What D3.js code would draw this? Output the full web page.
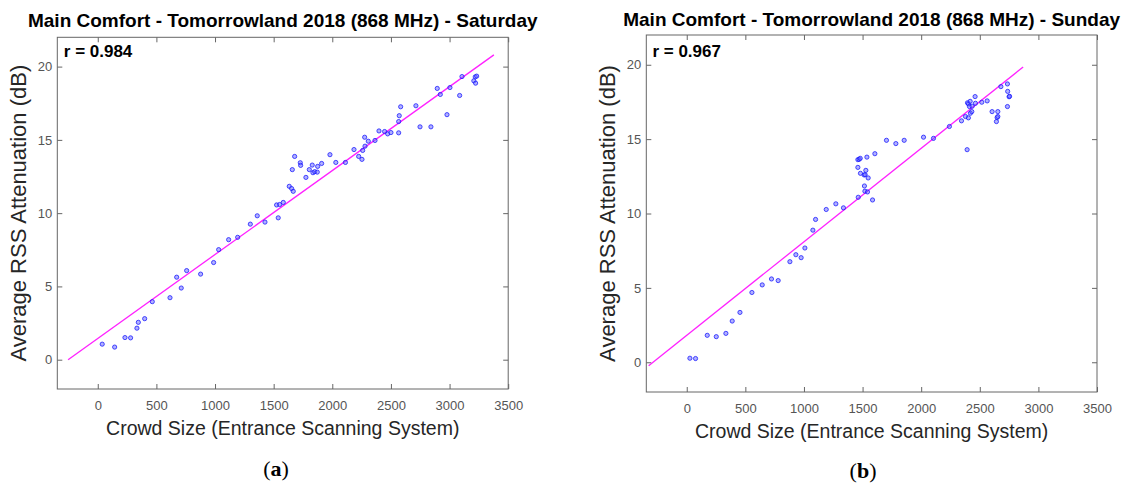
<!DOCTYPE html>
<html>
<head>
<meta charset="utf-8">
<script src="https://cdn.jsdelivr.net/npm/d3@7"></script>
<style>
  body { margin: 0; background: #fff; }
  svg { display: block; }
</style>
</head>
<body>
<div id="chart"></div>
<script>
// Saturday (a)
const satX = [38, 144, 232, 280, 334, 346, 400, 465, 616, 673, 712, 758, 877, 988, 1031, 1116,
  1193, 1301, 1360, 1426, 1525, 1539, 1551, 1582, 1633, 1653, 1659, 1667, 1679, 1727, 1730, 1775,
  1804, 1829, 1835, 1850, 1872, 1875, 1909, 1980, 2030, 2112, 2185, 2225, 2253, 2259, 2276, 2279,
  2307, 2364, 2398, 2446, 2472, 2500, 2566, 2566, 2571, 2583, 2713, 2748, 2841, 2895, 2921, 2978,
  3003, 3086, 3106, 3207, 3219, 3222, 3231];
const satY = [1.06, 0.86, 1.51, 1.49, 2.15, 2.55, 2.80, 3.96, 4.23, 5.63, 4.89, 6.08, 5.84, 6.63, 7.51, 8.19,
  8.35, 9.25, 9.82, 9.39, 10.56, 9.68, 10.59, 10.73, 11.83, 11.68, 12.97, 11.49, 13.87, 13.44, 13.26, 12.44,
  12.97, 13.28, 12.76, 12.83, 12.80, 13.19, 13.39, 13.99, 13.46, 13.46, 14.34, 13.87, 13.67, 14.28, 15.18, 14.57,
  14.91, 14.96, 15.61, 15.57, 15.41, 15.50, 15.48, 16.25, 16.65, 17.26, 17.33, 15.89, 15.89, 18.51, 18.10, 16.72,
  18.57, 18.03, 19.32, 19.03, 19.30, 18.87, 19.35];
const satLineX = [-253, 3378];
const satLineY = [0, 20.8];

// Sunday (b)
const sunX = [27, 75, 175, 252, 334, 388, 454, 556, 644, 723, 780, 880, 931, 976, 1008, 1076,
  1099, 1190, 1272, 1337, 1460, 1460, 1463, 1471, 1480, 1482, 1514, 1516, 1520, 1522, 1528, 1537,
  1542, 1548, 1585, 1605, 1704, 1784, 1855, 2020, 2105, 2241, 2344, 2378, 2392, 2395, 2403, 2403,
  2412, 2418, 2420, 2432, 2435, 2460, 2463, 2517, 2563, 2605, 2642, 2648, 2654, 2654, 2680, 2736,
  2738, 2750, 2754, 2736];
const sunY = [0.27, 0.25, 1.81, 1.72, 1.94, 2.77, 3.35, 4.69, 5.20, 5.60, 5.49, 6.76, 7.23, 7.03, 7.68, 8.88,
  9.60, 10.27, 10.65, 10.38, 13.10, 13.62, 11.09, 13.64, 13.71, 12.70, 12.59, 11.85, 11.50, 12.61, 12.90, 13.79,
  11.45, 12.39, 10.91, 14.02, 14.92, 14.70, 14.92, 15.13, 15.05, 15.85, 16.23, 16.52, 14.29, 17.44, 16.43, 17.37,
  17.19, 17.54, 16.74, 16.85, 17.21, 17.86, 17.41, 17.48, 17.57, 16.85, 16.18, 16.45, 16.52, 16.85, 18.53, 18.71,
  18.21, 17.85, 17.88, 17.19];
const sunLineX = [-325, 2870];
const sunLineY = [-0.23, 19.85];

const xTicks = [0, 500, 1000, 1500, 2000, 2500, 3000, 3500];
const yTicks = [0, 5, 10, 15, 20];
const xDomain = [-345, 3500];
const yDomain = [-2, 22];
const titles = ["Main Comfort - Tomorrowland 2018 (868 MHz) - Saturday",
                "Main Comfort - Tomorrowland 2018 (868 MHz) - Sunday"];
const rLabels = ["r = 0.984", "r = 0.967"];
const captions = ["a", "b"];
const xLabel = "Crowd Size (Entrance Scanning System)";
const yLabel = "Average RSS Attenuation (dB)";

const width = 1137, height = 487;
const svg = d3.select("#chart").append("svg")
  .attr("width", width).attr("height", height)
  .style("font-family", "'Liberation Sans', Arial, sans-serif");

const panels = [
  { xs: satX, ys: satY, lx: satLineX, ly: satLineY, left: 57.3, right: 508.2, top: 37.3, bottom: 389,
    titleY: 27, rX: 63.8, rY: 57.3, yLabX: 26, capX: 276, capY: 476 },
  { xs: sunX, ys: sunY, lx: sunLineX, ly: sunLineY, left: 646.3, right: 1097, top: 35, bottom: 392,
    titleY: 26, rX: 652.4, rY: 56.7, yLabX: 615, capX: 863, capY: 478 }
];

panels.forEach((p, i) => {
  const x = d3.scaleLinear().domain(xDomain).range([p.left, p.right]);
  const y = d3.scaleLinear().domain(yDomain).range([p.bottom, p.top]);
  const cx = (p.left + p.right) / 2, cy = (p.top + p.bottom) / 2;
  const g = svg.append("g");

  // axes with inward ticks on all four sides
  const axes = [
    [d3.axisBottom(x).tickValues(xTicks).tickFormat(d3.format("d")), `translate(0,${p.bottom})`],
    [d3.axisTop(x).tickValues(xTicks).tickFormat(""), `translate(0,${p.top})`],
    [d3.axisLeft(y).tickValues(yTicks), `translate(${p.left},0)`],
    [d3.axisRight(y).tickValues(yTicks).tickFormat(""), `translate(${p.right},0)`]
  ];
  axes.forEach(([ax, tr], k) => {
    const a = g.append("g").attr("transform", tr)
      .call(ax.tickSizeInner(-5).tickSizeOuter(0).tickPadding(k === 0 ? 12 : 5));
    a.select(".domain").remove();
    a.selectAll("line").attr("stroke", "#666");
    a.selectAll("text").attr("fill", "#555").style("font-size", "13px")
      .style("font-family", "'Liberation Sans', Arial, sans-serif");
  });

  g.append("rect")
    .attr("x", p.left).attr("y", p.top)
    .attr("width", p.right - p.left).attr("height", p.bottom - p.top)
    .attr("fill", "none").attr("stroke", "#666").attr("stroke-width", 1);

  // fit line
  g.append("path")
    .datum(p.lx.map((v, j) => [v, p.ly[j]]))
    .attr("d", d3.line().x(d => x(d[0])).y(d => y(d[1])))
    .attr("stroke", "#ff22ff").attr("stroke-width", 1.3).attr("fill", "none");

  // points
  g.selectAll("circle.pt")
    .data(p.xs.map((v, j) => [v, p.ys[j]]))
    .enter().append("circle")
    .attr("class", "pt")
    .attr("cx", d => x(d[0])).attr("cy", d => y(d[1]))
    .attr("r", 2.1)
    .attr("fill", "rgba(100,100,255,0.5)")
    .attr("stroke", "rgba(20,20,255,0.75)")
    .attr("stroke-width", 1);

  // texts
  g.append("text").attr("x", cx).attr("y", p.titleY)
    .attr("text-anchor", "middle").style("font-size", "19px").style("font-weight", "bold")
    .attr("fill", "#000").text(titles[i]);

  g.append("text").attr("x", p.rX).attr("y", p.rY)
    .style("font-size", "17px").style("font-weight", "bold")
    .attr("fill", "#000").text(rLabels[i]);

  g.append("text").attr("x", cx).attr("y", p.bottom + 46)
    .attr("text-anchor", "middle").style("font-size", "19.5px")
    .attr("fill", "#262626").text(xLabel);

  g.append("text").attr("transform", `translate(${p.yLabX},${cy}) rotate(-90)`)
    .attr("text-anchor", "middle").style("font-size", "22px")
    .attr("fill", "#262626").text(yLabel);

  const cap = g.append("text").attr("x", p.capX).attr("y", p.capY)
    .attr("text-anchor", "middle")
    .style("font-family", "'Liberation Serif', 'DejaVu Serif', serif")
    .style("font-size", "22px").attr("fill", "#000");
  cap.append("tspan").text("(");
  cap.append("tspan").style("font-weight", "bold").text(captions[i]);
  cap.append("tspan").text(")");
});
</script>
</body>
</html>
